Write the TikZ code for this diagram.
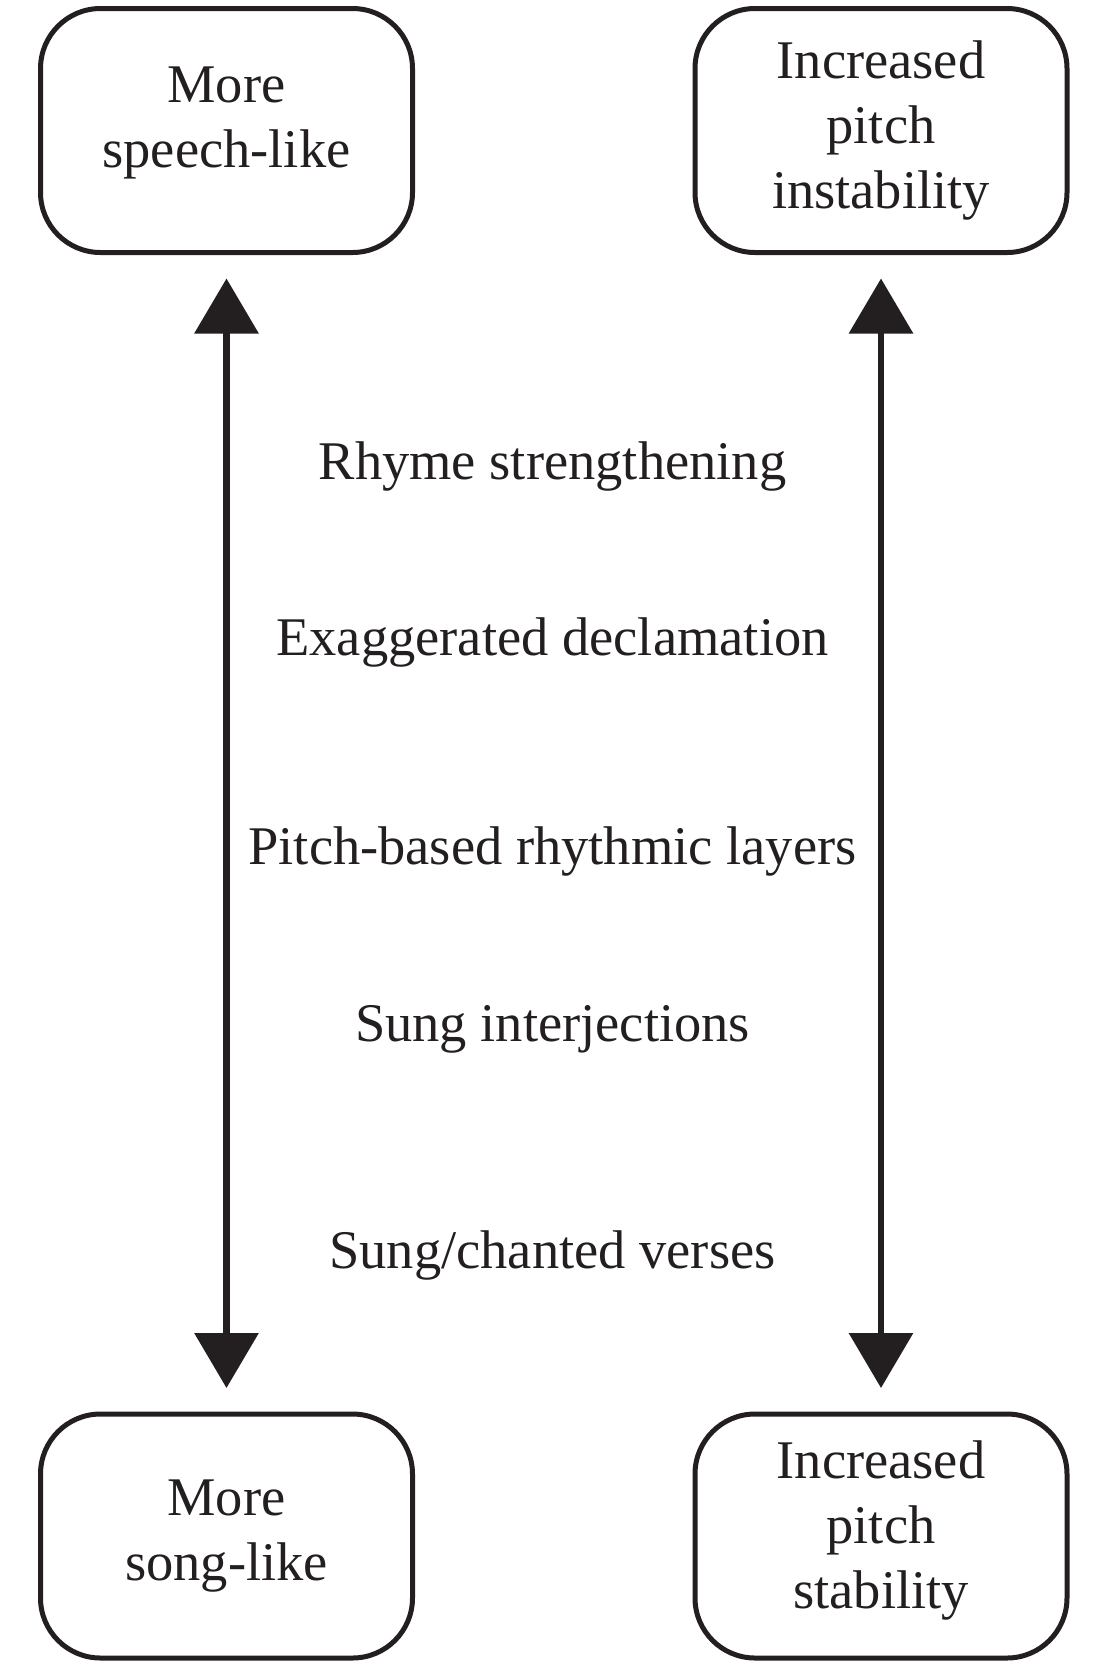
\documentclass[tikz,border=0pt]{standalone}
\usepackage{fontspec}
\setmainfont{Liberation Serif}
\usepackage{tikz}
\usetikzlibrary{arrows.meta}
\definecolor{inkblack}{RGB}{35,31,32}

\begin{document}
\begin{tikzpicture}
	\useasboundingbox (0,0) rectangle (11.13,-16.65);
	\begin{scope}[every node/.style = {rectangle, rounded corners = 0.6cm, draw = inkblack,
			line width = 0.05cm, minimum width = 3.72cm, minimum height = 2.44cm,
			align = center, text = inkblack, font = \fontsize{15.5}{18.5}\selectfont}]
		\node [text depth = 0.27cm] (speech) at (2.265,-1.305) {More\\speech-like};
		\node (instab) at (8.81,-1.305) {Increased\\pitch\\instability};
		\node (song) at (2.265,-15.36) {More\\song-like};
		\node [text depth = 0.23cm] (stab) at (8.81,-15.36) {Increased\\pitch\\stability};
	\end{scope}
	\begin{scope}[every node/.style = {anchor = base, inner sep = 0pt, text = inkblack,
			font = \fontsize{15.5}{18.5}\selectfont}]
		\node (rhyme) at (5.525,-4.79) {Rhyme strengthening};
		\node (declam) at (5.525,-6.55) {Exaggerated declamation};
		\node (layers) at (5.525,-8.64) {Pitch-based rhythmic layers};
		\node (interj) at (5.525,-10.41) {Sung interjections};
		\node (verses) at (5.525,-12.68) {Sung/chanted verses};
	\end{scope}
	\begin{scope}[>={Triangle[length = 0.55cm, width = 0.63cm]},
			every edge/.style={draw=inkblack, line width = 0.065cm,
			shorten > = 0.235cm, shorten < = 0.235cm}]
		\path [<->] (speech) edge (song);
		\path [<->] (instab) edge (stab);
	\end{scope}
\end{tikzpicture}
\end{document}
